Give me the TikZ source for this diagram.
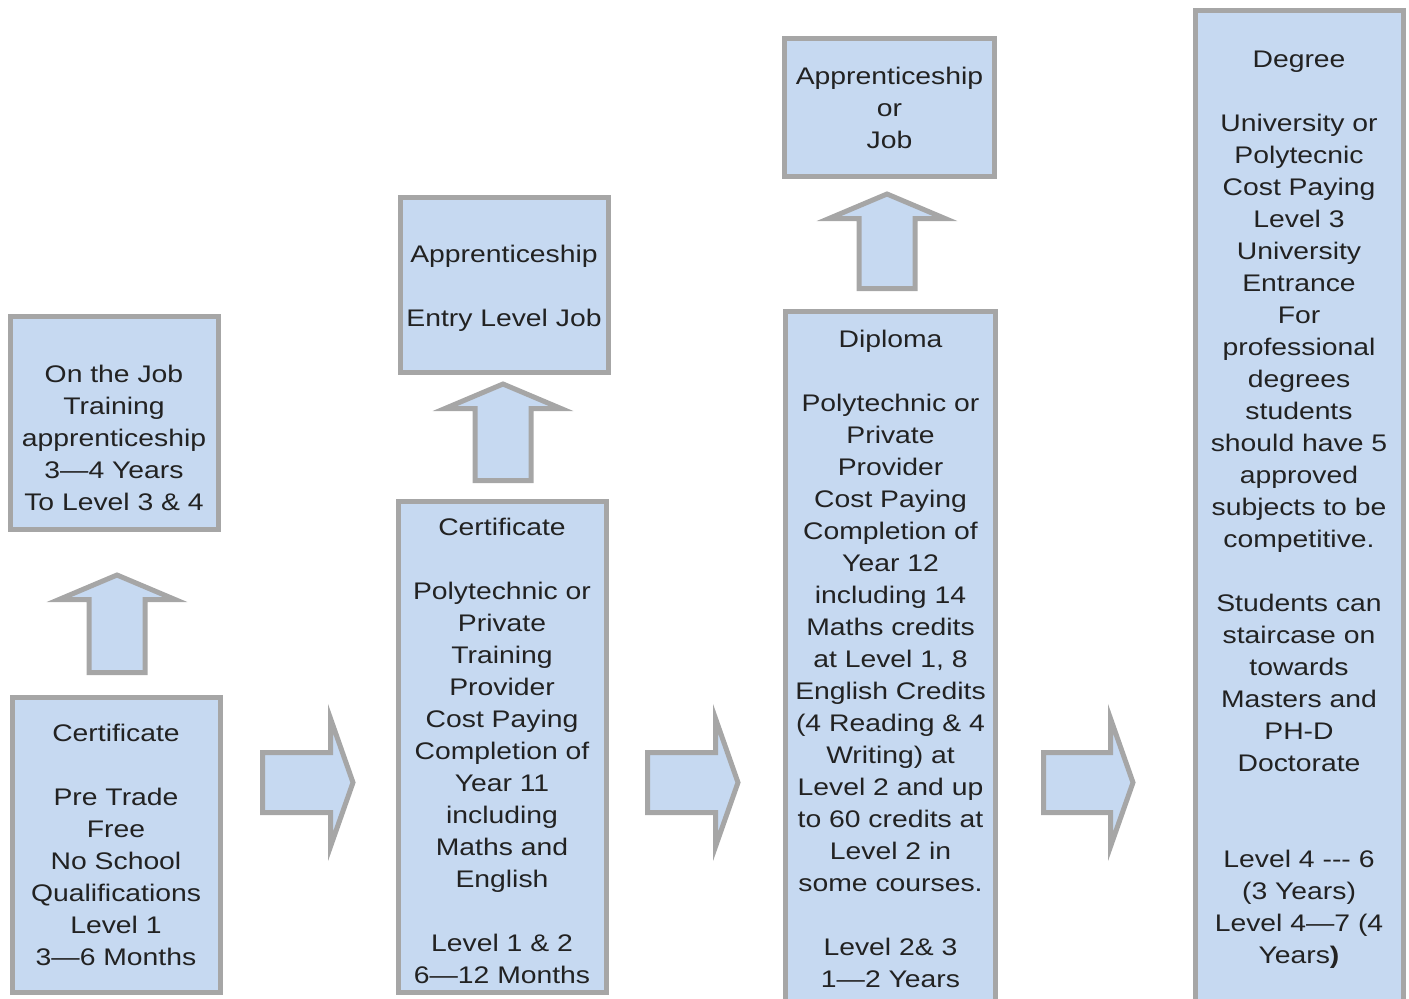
\documentclass[tikz,border=0pt]{standalone}
\usepackage{fontspec}
\setmainfont{Liberation Sans}[FakeStretch=1.18]

\definecolor{boxfill}{HTML}{C6D9F1}
\definecolor{boxline}{HTML}{A6A6A6}
\definecolor{boxtext}{HTML}{222222}

\newcommand{\lift}[1]{\rule{0pt}{#1}}

\begin{document}
\begin{tikzpicture}[x = 0.5pt, y = -0.5pt,
	stage/.style = {draw = boxline, fill = boxfill, line width = 2.5pt, minimum width = 104pt,
		inner sep = 2pt, align = center, text = boxtext, font = \fontsize{12}{16}\selectfont},
	blockarrow/.style = {draw = boxline, fill = boxfill, line width = 2.5pt, line join = miter}]

	% Definitions
	
	\def\HW{58}		% Half width of up arrow head
	\def\SW{28}		% Half width of up arrow shaft
	\def\HL{24.5}	% Length of up arrow head
	\def\RH{64}		% Half height of right arrow head
	\def\RS{30}		% Half height of right arrow shaft
	\def\RL{22.5}	% Length of right arrow head
	\def\RY{782.5}	% Height of right arrows
	
	\useasboundingbox (0, 0) rectangle (1409, 998);
	
	% Stage boxes
	
	\node [stage, minimum height = 106.5pt] (training) at (114, 423)
		{\lift{7.2pt}\\On the Job\\Training\\apprenticeship\\3—4 Years\\To Level 3 \& 4};
	\node [stage, minimum height = 147.5pt] (pretrade) at (116, 845)
		{Certificate\\[16pt]Pre Trade\\Free\\No School\\Qualifications\\Level 1\\3—6 Months};
	\node [stage, minimum height = 87.5pt] (entryjob) at (504, 285)
		{\lift{11.8pt}Apprenticeship\\[16pt]Entry Level Job};
	\node [stage, minimum height = 245.5pt] (certificate) at (502, 747)
		{\lift{12.8pt}Certificate\\[16pt]Polytechnic or\\Private\\Training\\Provider\\Cost Paying\\Completion of\\Year 11\\including\\Maths and\\English\\[16pt]Level 1 \& 2\\6—12 Months};
	\node [stage, minimum width = 105pt, minimum height = 69pt] (job) at (889.5, 107.5)
		{Apprenticeship\\or\\Job};
	\node [stage, minimum width = 105pt, minimum height = 347.5pt] (diploma) at (890.5, 659)
		{Diploma\\[16pt]Polytechnic or\\Private\\Provider\\Cost Paying\\Completion of\\Year 12\\including 14\\Maths credits\\at Level 1, 8\\English Credits\\(4 Reading \& 4\\Writing) at\\Level 2 and up\\to 60 credits at\\Level 2 in\\some courses.\\[16pt]Level 2\& 3\\1—2 Years};
	\node [stage, minimum height = 496pt] (degree) at (1299, 506.5)
		{\lift{11.8pt}Degree\\[16pt]University or\\Polytecnic\\Cost Paying\\Level 3\\University\\Entrance\\For\\professional\\degrees\\students\\should have 5\\approved\\subjects to be\\competitive.\\[16pt]Students can\\staircase on\\towards\\Masters and\\PH-D\\Doctorate\\[32pt]Level 4 -\kern0pt-\kern0pt- 6\\(3 Years)\\Level 4—7 (4\\Years\textbf{)}};
	
	% Up arrows
	
	\foreach \X/\T/\B in {117/575/672.5, 503/384/480.5, 887/194/288.5}
	{
		\draw [blockarrow] (\X, \T) -- (\X + \HW, \T + \HL) -- (\X + \SW, \T + \HL) -- (\X + \SW, \B)
			-- (\X - \SW, \B) -- (\X - \SW, \T + \HL) -- (\X - \HW, \T + \HL) -- cycle;
	}
	
	% Right arrows
	
	\foreach \L/\P in {262.5/353, 647.5/738, 1043.5/1133}
	{
		\draw [blockarrow] (\L, \RY - \RS) -- (\P - \RL, \RY - \RS) -- (\P - \RL, \RY - \RH) -- (\P, \RY)
			-- (\P - \RL, \RY + \RH) -- (\P - \RL, \RY + \RS) -- (\L, \RY + \RS) -- cycle;
	}

\end{tikzpicture}
\end{document}
